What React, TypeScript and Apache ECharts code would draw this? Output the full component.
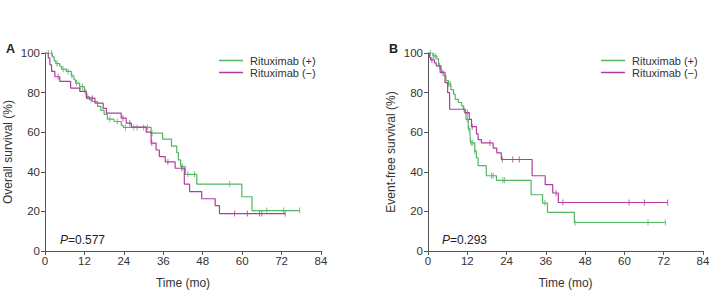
import React, { useEffect, useRef } from "react";
import * as echarts from "echarts";

// Panel A – Overall survival
const aPosTimes = [0, 2.2, 2.8, 3.3, 4.5, 5, 6.5, 8, 8.8, 9.3, 10.5, 12, 12.6, 13.5, 14.3, 16, 17, 18, 19, 21, 23.2, 23.8, 32.3, 35.8, 38.5, 40.1, 40.6, 41.3, 42.7, 46.2, 59.9, 63, 77.5];
const aPosSurv = [100, 98, 96, 94.6, 93.3, 91.9, 90.7, 88.5, 86.5, 84.8, 83, 80.6, 78, 76.5, 75.5, 73, 71, 69, 66.6, 65.4, 63.5, 62.4, 59.5, 56.5, 53, 49.7, 46, 42.6, 38.7, 33.8, 27.4, 20.4, 20.4];
const aPosCensor = [1, 2, 3.7, 5.5, 7, 8.2, 9.6, 10.6, 11.4, 12.2, 13, 14, 19.7, 22, 24.5, 27, 28, 30, 31.2, 32.6, 41.8, 43.5, 45.5, 56.2, 67.5, 72.6, 77.5];

const aNegTimes = [0, 1, 1.5, 2, 3, 4.5, 7.8, 10.6, 12.6, 15.2, 17.7, 18.7, 23.2, 24.7, 26.3, 30.8, 32.3, 33.8, 34.8, 36.6, 39.6, 42.4, 44.0, 47.7, 51.8, 53.1, 73.1];
const aNegSurv = [100, 97.5, 94, 90.7, 88, 85.7, 82.3, 80.6, 77.2, 74.7, 72, 69.6, 67.1, 64.6, 62.6, 60, 54.5, 51, 47.7, 45, 41.8, 33.8, 30, 26.4, 22.9, 18.9, 18.9];
const aNegCensor = [4, 14.4, 23.7, 25.8, 32.5, 37.4, 41.6, 57.7, 61.6, 65.3, 66.0, 73.1];

// Panel B – Event-free survival
const bPosTimes = [0, 1.5, 2.7, 3.2, 4, 4.6, 5.5, 6.25, 7, 7.8, 8.3, 9.3, 10.3, 10.8, 11.3, 11.6, 12.3, 12.8, 13, 14.3, 14.8, 15.3, 17.8, 20.9, 31.5, 35, 36.5, 44.7, 72.5];
const bPosSurv = [100, 98.5, 97, 93.6, 91, 88.5, 86, 84.3, 81.5, 79.2, 76.6, 75, 73.3, 71.6, 69.5, 66.5, 61.8, 59.7, 54.6, 50.4, 47, 43.1, 38, 35.7, 28.4, 24.2, 19.5, 14.4, 14.4];
const bPosCensor = [0.7, 1.7, 2.2, 3.5, 4.1, 6.3, 6.8, 11, 12, 12.5, 13.2, 13.7, 14.3, 19.4, 19.9, 22.9, 23.4, 35.7, 44.9, 67.2, 72.5];

const bNegTimes = [0, 0.5, 0.8, 2, 2.5, 3.7, 5.2, 6, 6.6, 11.3, 12.6, 13.3, 14.8, 15.3, 16.3, 19.9, 21, 22.4, 31.8, 35.8, 38.1, 39.8, 73.2];
const bNegSurv = [100, 97.8, 96.5, 95, 93.5, 90.2, 85, 80, 71.6, 69.9, 66.5, 62.8, 59.2, 56.3, 54.6, 52, 49.6, 46.2, 38, 33.5, 29.3, 24.5, 24.5];
const bNegCensor = [1.2, 12, 13.5, 18.9, 22.7, 25.9, 27.9, 39.1, 41.2, 61.4, 66.1, 73.2];

const xTicks = [0, 12, 24, 36, 48, 60, 72, 84];
const yTicks = [0, 20, 40, 60, 80, 100];
const legendNames = ["Rituximab (+)", "Rituximab (\u2212)"];
const pValues = ["0.577", "0.293"];
const yNames = ["Overall survival (%)", "Event-free survival (%)"];

const GREEN = "#52b662";
const MAGENTA = "#b23b9e";

function stepData(times: number[], surv: number[]) {
  return times.map((t, i) => [t, surv[i]]);
}
function censorData(times: number[], surv: number[], cens: number[]) {
  return cens.map((c) => {
    let v = surv[0];
    for (let i = 0; i < times.length; i++) if (times[i] <= c) v = surv[i];
    return [c, v];
  });
}

export default function App() {
  const ref = useRef<HTMLDivElement>(null);
  useEffect(() => {
    if (!ref.current) return;
    const chart = echarts.init(ref.current, undefined, { renderer: "svg" });
    const font = "Liberation Sans, Arial, sans-serif";
    const grids = [
      { left: 45, top: 53, width: 276, height: 198 },
      { left: 428, top: 53, width: 275, height: 198 },
    ];
    const mkX = (gi: number) => ({
      type: "value",
      gridIndex: gi,
      min: xTicks[0],
      max: xTicks[xTicks.length - 1],
      interval: 12,
      name: "Time (mo)",
      nameLocation: "middle",
      nameGap: 26,
      nameTextStyle: { color: "#333", fontSize: 12, fontFamily: font },
      axisLine: { show: true, lineStyle: { color: "#555", width: 1 } },
      axisTick: { show: true, length: 4, lineStyle: { color: "#555" } },
      axisLabel: { color: "#333", fontSize: 11.5, fontFamily: font, margin: 4 },
      splitLine: { show: false },
    });
    const mkY = (gi: number) => ({
      type: "value",
      gridIndex: gi,
      min: yTicks[0],
      max: yTicks[yTicks.length - 1],
      interval: 20,
      name: yNames[gi],
      nameLocation: "middle",
      nameGap: 31,
      nameTextStyle: { color: "#333", fontSize: 12, fontFamily: font },
      axisLine: { show: true, lineStyle: { color: "#555", width: 1 } },
      axisTick: { show: true, length: 4, lineStyle: { color: "#555" } },
      axisLabel: { color: "#333", fontSize: 11.5, fontFamily: font, margin: 5 },
      splitLine: { show: false },
    });
    const lineS = (name: string, gi: number, t: number[], s: number[], color: string) => ({
      name,
      type: "line",
      xAxisIndex: gi,
      yAxisIndex: gi,
      step: "end",
      showSymbol: false,
      symbol: "none",
      data: stepData(t, s),
      lineStyle: { color, width: 1.2 },
      itemStyle: { color },
    });
    const censS = (name: string, gi: number, t: number[], s: number[], c: number[], color: string) => ({
      name,
      type: "scatter",
      xAxisIndex: gi,
      yAxisIndex: gi,
      symbol: "rect",
      symbolSize: [1, 6],
      data: censorData(t, s, c),
      itemStyle: { color },
    });
    const legend = (gi: number) => ({
      orient: "vertical",
      left: gi === 0 ? 214 : 596,
      top: 50,
      itemWidth: 24,
      itemHeight: 1.5,
      itemGap: 1,
      icon: "rect",
      data: legendNames.map((n) => ({ name: n })),
      textStyle: { color: "#333", fontSize: 11, fontFamily: font, padding: [0, 0, 0, 2] },
      selectedMode: false,
    });
    const pStyle = {
      fontSize: 12,
      color: "#222",
      fontFamily: font,
      fontWeight: "normal",
      rich: { i: { fontStyle: "italic", fontSize: 12, fontFamily: font, color: "#222" } },
    };
    chart.setOption({
      animation: false,
      backgroundColor: "#fff",
      grid: grids,
      xAxis: [mkX(0), mkX(1)],
      yAxis: [mkY(0), mkY(1)],
      legend: [legend(0), legend(1)],
      title: [
        { text: "A", left: 1, top: 37, textStyle: { fontSize: 12.5, fontWeight: "bold", color: "#222", fontFamily: font } },
        { text: "B", left: 384, top: 37, textStyle: { fontSize: 12.5, fontWeight: "bold", color: "#222", fontFamily: font } },
        { text: "{i|P}=" + pValues[0], left: 55, top: 229, textStyle: pStyle },
        { text: "{i|P}=" + pValues[1], left: 437, top: 229, textStyle: pStyle },
      ],
      series: [
        lineS(legendNames[0], 0, aPosTimes, aPosSurv, GREEN),
        lineS(legendNames[1], 0, aNegTimes, aNegSurv, MAGENTA),
        censS(legendNames[0], 0, aPosTimes, aPosSurv, aPosCensor, GREEN),
        censS(legendNames[1], 0, aNegTimes, aNegSurv, aNegCensor, MAGENTA),
        lineS(legendNames[0], 1, bPosTimes, bPosSurv, GREEN),
        lineS(legendNames[1], 1, bNegTimes, bNegSurv, MAGENTA),
        censS(legendNames[0], 1, bPosTimes, bPosSurv, bPosCensor, GREEN),
        censS(legendNames[1], 1, bNegTimes, bNegSurv, bNegCensor, MAGENTA),
      ],
    });
    return () => chart.dispose();
  }, []);
  return (
    <div
      ref={ref}
      style={{ position: "fixed", left: 0, top: 0, width: 726, height: 301, background: "#fff" }}
    />
  );
}
